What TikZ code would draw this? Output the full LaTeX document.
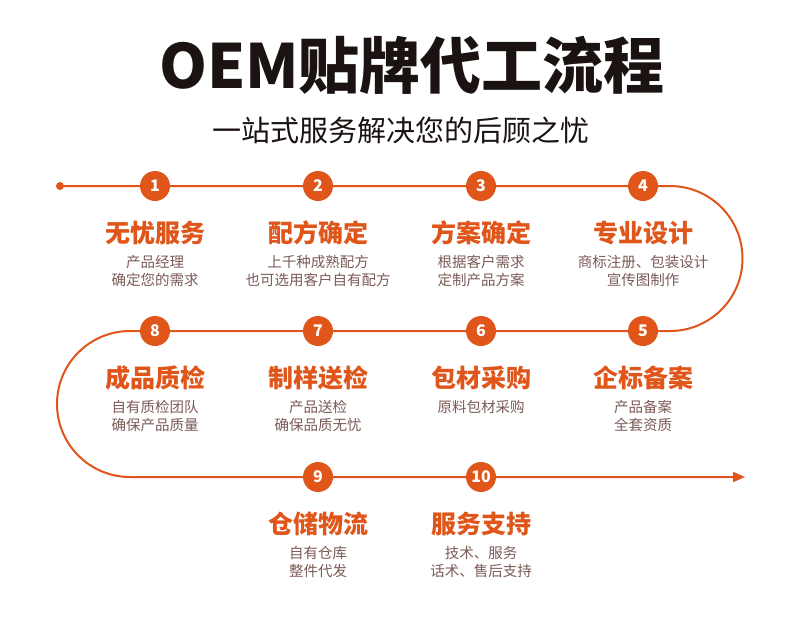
\documentclass[tikz,border=0pt]{standalone}
\usepackage{fontspec}
\setmainfont{Noto Sans CJK SC}
\newfontfamily\cjk{Noto Sans CJK SC}
\usetikzlibrary{arrows.meta,positioning,calc}
\definecolor{oemorange}{HTML}{E0561A}
\definecolor{descbrown}{HTML}{7B5B57}
\definecolor{inkblack}{HTML}{1A1311}

\tikzset{
  stepnum/.style={circle, fill=oemorange, minimum size=30pt, inner sep=0pt, text=white,
    font=\cjk\bfseries\fontsize{16}{16}\selectfont},
  steptitle/.style={text=oemorange, inner sep=0pt, font=\cjk\bfseries\fontsize{25}{25}\selectfont},
  stepdesc/.style={text=descbrown, inner sep=0pt, align=center, font=\cjk\fontsize{14.5}{18}\selectfont},
  flowline/.style={draw=oemorange, line width=2pt},
}

\begin{document}
\begin{tikzpicture}[x=1pt,y=1pt,>=latex]
            \fill[white] (0,0) rectangle (800,-622);
            \useasboundingbox (0,0) rectangle (800,-622);
            % heading
            \node[text=inkblack, font=\cjk\bfseries\fontsize{61}{61}\selectfont] (title) at (412,-65) {OEM贴牌代工流程};
            \node[text=inkblack, font=\cjk\fontsize{29}{29}\selectfont] (subtitle) at (401,-130) {一站式服务解决您的后顾之忧};
            % steps
            \foreach \i/\x/\y/\ti/\de in {
                1/155/186/无忧服务/{产品经理\\确定您的需求},
                2/318/186/配方确定/{上千种成熟配方\\也可选用客户自有配方},
                3/481/186/方案确定/{根据客户需求\\定制产品方案},
                4/643/186/专业设计/{商标注册、包装设计\\宣传图制作},
                5/643/331/企标备案/{产品备案\\全套资质},
                6/481/331/包材采购/{原料包材采购},
                7/318/331/制样送检/{产品送检\\确保品质无忧},
                8/155/331/成品质检/{自有质检团队\\确保产品质量},
                9/318/477/仓储物流/{自有仓库\\整件代发},
                10/481/477/服务支持/{技术、服务\\话术、售后支持}}{
                \node[stepnum] (n\i) at (\x,-\y) {\i};
                \node[steptitle] (t\i) at ($(n\i)+(0,-47)$) {\ti};
                \node[stepdesc, below=10pt of t\i] (d\i) {\de};
            }
            % route
            \coordinate (start) at (60,-186);
            \coordinate (turnA) at (670,-186);
            \coordinate (turnB) at (130,-331);
            \coordinate (finish) at (745,-477);
            \fill[oemorange] (start) circle[radius=4];
            \draw[flowline,-{Triangle[length=12pt,width=10pt]}] (start) -- (n1) -- (n2) -- (n3) -- (n4) -- (turnA)
                arc[start angle=90, end angle=-90, radius=72.5] -- (n5) -- (n6) -- (n7) -- (n8) -- (turnB)
                arc[start angle=90, end angle=270, radius=73] -- (n9) -- (n10) -- (finish);
        \end{tikzpicture}
\end{document}
